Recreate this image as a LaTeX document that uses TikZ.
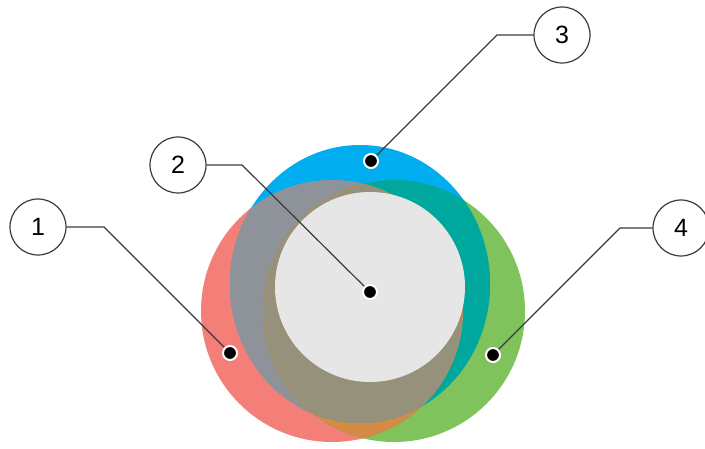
\documentclass[tikz,border=0pt]{standalone}
\usepackage{fontspec}
\setmainfont{Liberation Sans}
\usepackage{tikz}
\usetikzlibrary{calc,positioning}
\definecolor{cred}{HTML}{F37F78}
\definecolor{cblue}{HTML}{00AEEF}
\definecolor{cgreen}{HTML}{80C35D}
\definecolor{cgray}{HTML}{8E9299}
\definecolor{cteal}{HTML}{00A79D}
\definecolor{colive}{HTML}{95917A}
\definecolor{corange}{HTML}{D68B45}
\definecolor{clight}{HTML}{E6E6E6}
\definecolor{cline}{HTML}{3A3A3A}
\tikzset{
    tag/.style ={circle, draw=cline, line width=1.2pt, fill=white, minimum size=56pt, inner sep=0pt,
                 font=\fontsize{25}{25}\selectfont},
    dot/.style = {circle, draw=white, line width=2pt, fill=black, minimum size=14pt, inner sep=0pt},
    lead/.style={draw=cline, line width=1.2pt, line join=miter}
}

\begin{document}
\begin{tikzpicture}[x=1pt,y=1pt]
	\useasboundingbox (0,0) rectangle (705,448);
	% centres of the discs
	\coordinate (cR) at (332,137);
	\coordinate (cG) at (394,137);
	\coordinate (cB) at (360,164);
	\coordinate (cL) at (370,161);

	\fill[cred] (cR) circle [radius=131];
	\fill[cgreen] (cG) circle [radius=131];
	\fill[cblue] (cB) ellipse [x radius=130, y radius=139];
	\begin{scope}
		\clip (cR) circle [radius=131];
		\fill[cgray] (cB) ellipse [x radius=130, y radius=139];
		\fill[corange] (cG) circle [radius=131];
	\end{scope}
	\begin{scope}
		\clip (cG) circle [radius=131];
		\fill[cteal] (cB) ellipse [x radius=130, y radius=139];
	\end{scope}
	\begin{scope}
		\clip (cR) circle [radius=131];
		\clip (cG) circle [radius=131];
		\fill[colive] (cB) ellipse [x radius=130, y radius=139];
		\draw[corange!60!colive, line width=1.2pt] (cR) circle [radius=131] (cG) circle [radius=131];
	\end{scope}
	\fill[clight] (cL) circle [radius=95];

	% numbered tags
	\node[tag] (1) at (38,221) {1};
	\node[tag] (2) at (178,283) {2};
	\node[tag] (3) at (562,413) {3};
	\node[tag] (4) at (681,220) {4};

	\coordinate (b1) at (104,221);
	\coordinate (b2) at (242,283);
	\coordinate (b3) at (497,413);
	\coordinate (b4) at (620,220);

	\path[lead] (1) -- (b1) -- (230,95) node[dot] (p1) {};
	\path[lead] (2) -- (b2) -- (370,156) node[dot] (p2) {};
	\path[lead] (3) -- (b3) -- (371,287) node[dot] (p3) {};
	\path[lead] (4) -- (b4) -- (493,93) node[dot] (p4) {};
\end{tikzpicture}
\end{document}
